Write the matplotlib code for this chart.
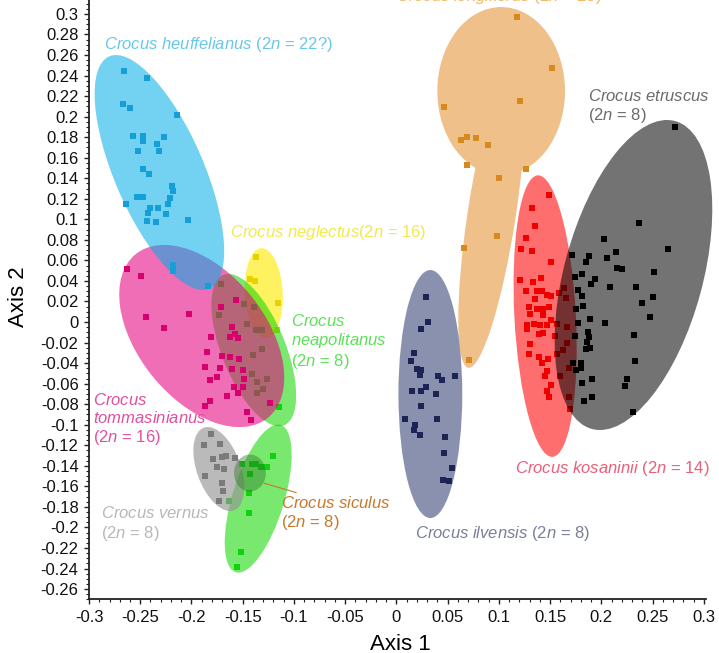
import matplotlib
matplotlib.use('Agg')
import matplotlib.pyplot as plt
from matplotlib.patches import Ellipse
from matplotlib.ticker import MultipleLocator, FuncFormatter

plt.rcParams['font.family'] = ['Liberation Sans', 'DejaVu Sans']
plt.rcParams['mathtext.fontset'] = 'custom'
plt.rcParams['mathtext.rm'] = 'Liberation Sans'
plt.rcParams['mathtext.it'] = 'Liberation Sans:italic'
plt.rcParams['mathtext.bf'] = 'Liberation Sans:bold'

# ---------------- data (Axis 1, Axis 2 scores) ----------------
heuff_x = [-0.266, -0.243, -0.267, -0.260, -0.214, -0.257, -0.247, -0.247, -0.227, -0.234,
           -0.252, -0.232, -0.247, -0.241, -0.219, -0.218, -0.221, -0.253, -0.247, -0.264,
           -0.223, -0.240, -0.233, -0.242, -0.225, -0.243, -0.235, -0.203, -0.218, -0.218, -0.184]
heuff_y = [0.244, 0.238, 0.212, 0.208, 0.202, 0.181, 0.181, 0.176, 0.180, 0.173,
           0.167, 0.167, 0.149, 0.144, 0.132, 0.128, 0.121, 0.122, 0.122, 0.115,
           0.115, 0.111, 0.111, 0.106, 0.105, 0.098, 0.097, 0.099, 0.056, 0.050, 0.035]

tomm_x = [-0.263, -0.249, -0.202, -0.244, -0.227, -0.181, -0.185, -0.170, -0.187, -0.172,
          -0.175, -0.182, -0.165, -0.182, -0.187, -0.146, -0.142, -0.157, -0.171, -0.160,
          -0.158, -0.162, -0.155, -0.162, -0.154, -0.160, -0.150, -0.149, -0.159, -0.155,
          -0.150, -0.123]
tomm_y = [0.052, 0.045, 0.008, 0.005, -0.006, -0.015, -0.029, -0.033, -0.044, -0.045,
          -0.054, -0.056, -0.072, -0.077, -0.082, -0.088, -0.095, 0.021, 0.015, -0.005,
          -0.012, -0.015, -0.016, -0.034, -0.036, -0.046, -0.047, -0.055, -0.063, -0.069,
          -0.063, -0.079]

negl_x = [-0.137, -0.143, -0.138, -0.116, -0.117]
negl_y = [0.063, 0.042, 0.040, 0.019, -0.008]

neap_x = [-0.171, -0.173, -0.149, -0.139, -0.146, -0.137, -0.131, -0.140, -0.131, -0.141,
          -0.136, -0.130, -0.136, -0.126, -0.115, -0.120, -0.126, -0.151, -0.141, -0.137,
          -0.132, -0.143, -0.144, -0.144, -0.152, -0.156, -0.163]
neap_y = [0.037, 0.007, 0.018, 0.015, -0.002, -0.008, -0.008, -0.032, -0.026, -0.051,
          -0.058, -0.065, -0.069, -0.055, -0.083, -0.130, -0.141, -0.138, -0.138, -0.138,
          -0.141, -0.148, -0.166, -0.186, -0.224, -0.239, -0.174]

vern_x = [-0.181, -0.188, -0.172, -0.179, -0.170, -0.166, -0.158, -0.175, -0.168, -0.187,
          -0.170, -0.169, -0.173]
vern_y = [-0.109, -0.120, -0.119, -0.133, -0.131, -0.130, -0.132, -0.141, -0.143, -0.150,
          -0.157, -0.165, -0.174]

long_x = [0.118, 0.152, 0.121, 0.046, 0.063, 0.069, 0.078, 0.089, 0.069, 0.126,
          0.100, 0.098, 0.066, 0.071]
long_y = [0.297, 0.247, 0.215, 0.209, 0.177, 0.180, 0.179, 0.172, 0.153, 0.149,
          0.140, 0.084, 0.072, -0.037]

ilv_x = [0.029, 0.031, 0.024, 0.017, 0.014, 0.020, 0.024, 0.023, 0.041, 0.044,
         0.057, 0.029, 0.015, 0.024, 0.039, 0.024, 0.008, 0.040, 0.018, 0.017,
         0.023, 0.047, 0.046, 0.054, 0.045, 0.051]
ilv_y = [0.024, 0.000, -0.007, -0.030, -0.038, -0.046, -0.047, -0.052, -0.053, -0.056,
         -0.053, -0.063, -0.067, -0.067, -0.070, -0.082, -0.094, -0.094, -0.100, -0.105,
         -0.110, -0.112, -0.128, -0.142, -0.154, -0.155]

kos_x = [0.149, 0.132, 0.135, 0.126, 0.122, 0.132, 0.151, 0.141, 0.121, 0.133,
         0.126, 0.137, 0.142, 0.151, 0.147, 0.135, 0.129, 0.137, 0.143, 0.149,
         0.130, 0.143, 0.151, 0.127, 0.134, 0.140, 0.147, 0.127, 0.139, 0.143,
         0.130, 0.129, 0.139, 0.148, 0.142, 0.147, 0.145, 0.151, 0.147, 0.149,
         0.164, 0.159, 0.165, 0.157, 0.166, 0.155, 0.166, 0.163, 0.157, 0.168,
         0.160, 0.168, 0.169]
kos_y = [0.124, 0.111, 0.094, 0.082, 0.071, 0.069, 0.058, 0.043, 0.041, 0.039,
         0.030, 0.030, 0.030, 0.025, 0.026, 0.022, 0.015, 0.013, 0.013, 0.015,
         0.008, 0.007, 0.002, -0.003, -0.002, -0.003, -0.003, -0.007, -0.012, -0.011,
         -0.021, -0.031, -0.034, -0.036, -0.040, -0.048, -0.053, -0.061, -0.067, -0.073,
         0.033, 0.028, 0.023, -0.002, -0.005, -0.014, -0.020, -0.027, -0.031, -0.045,
         -0.053, -0.073, -0.085]

etr_x = [0.272, 0.237, 0.265, 0.203, 0.214, 0.205, 0.188, 0.171, 0.185, 0.215,
         0.220, 0.251, 0.181, 0.174, 0.194, 0.190, 0.208, 0.234, 0.177, 0.181,
         0.250, 0.240, 0.182, 0.175, 0.247, 0.189, 0.177, 0.204, 0.187, 0.188,
         0.174, 0.232, 0.186, 0.189, 0.185, 0.233, 0.180, 0.172, 0.180, 0.175,
         0.191, 0.225, 0.181, 0.223, 0.191, 0.183, 0.231]
etr_y = [0.190, 0.096, 0.071, 0.081, 0.068, 0.062, 0.064, 0.065, 0.058, 0.053,
         0.052, 0.049, 0.047, 0.044, 0.042, 0.037, 0.034, 0.034, 0.031, 0.025,
         0.024, 0.019, 0.016, 0.013, 0.005, 0.003, -0.001, -0.001, -0.010, -0.015,
         -0.014, -0.013, -0.019, -0.025, -0.026, -0.038, -0.040, -0.040, -0.045, -0.047,
         -0.055, -0.055, -0.059, -0.062, -0.073, -0.077, -0.088]

# confidence ellipses: centre x, centre y, major axis, minor axis, angle (deg)
ell_group = ['longiflorus', 'longiflorus', 'ilvensis', 'kosaninii', 'etruscus',
             'neglectus', 'neapolitanus', 'neapolitanus', 'tommasinianus',
             'heuffelianus', 'vernus', 'siculus']
ell_cx = [0.1022, 0.0930, 0.0331, 0.1451, 0.2313, -0.1295, -0.1392, -0.1349, -0.1900,
          -0.2313, -0.1733, -0.1430]
ell_cy = [0.2249, 0.1052, -0.0701, 0.0058, 0.0458, 0.0282, -0.0273, -0.1719, -0.0136,
          0.1456, -0.1431, -0.1470]
ell_major = [0.1636, 0.3030, 0.2415, 0.2745, 0.3106, 0.0876, 0.1580, 0.1500, 0.2050,
             0.2465, 0.0857, 0.0360]
ell_minor = [0.1246, 0.0470, 0.0623, 0.0600, 0.1354, 0.0370, 0.0623, 0.0506, 0.1240,
             0.0872, 0.0428, 0.0310]
ell_angle = [90, 81.3, 90, 93, 74.85, 93, 112, 73, -51, -66.6, 110, 90]

labels = {
    'heuffelianus': r'$\mathit{Crocus\ heuffelianus}$ (2$\mathit{n}$ = 22?)',
    'neglectus': r'$\mathit{Crocus\ neglectus}$(2$\mathit{n}$ = 16)',
    'neapolitanus': '$\\mathit{Crocus}$\n$\\mathit{neapolitanus}$\n(2$\\mathit{n}$ = 8)',
    'tommasinianus': '$\\mathit{Crocus}$\n$\\mathit{tommasinianus}$\n(2$\\mathit{n}$ = 16)',
    'vernus': '$\\mathit{Crocus\\ vernus}$\n(2$\\mathit{n}$ = 8)',
    'siculus': '$\\mathit{Crocus\\ siculus}$\n(2$\\mathit{n}$ = 8)',
    'ilvensis': r'$\mathit{Crocus\ ilvensis}$ (2$\mathit{n}$ = 8)',
    'kosaninii': r'$\mathit{Crocus\ kosaninii}$ (2$\mathit{n}$ = 14)',
    'etruscus': '$\\mathit{Crocus\\ etruscus}$\n(2$\\mathit{n}$ = 8)',
    'longiflorus': r'$\mathit{Crocus\ longiflorus}$ (2$\mathit{n}$ = 28)',
}

# ---------------- styles ----------------
ell_face = {'longiflorus': ('#f0c08a', 1.0), 'ilvensis': ('#28376e', 0.55),
            'kosaninii': ('#ff0000', 0.57), 'etruscus': ('#000000', 0.55),
            'neglectus': ('#ffeb00', 0.62), 'neapolitanus': ('#14d700', 0.57),
            'tommasinianus': ('#e6007e', 0.57), 'heuffelianus': ('#00aee8', 0.55),
            'vernus': ('#969696', 0.65), 'siculus': ('#286e1e', 0.40)}
ell_z = {'longiflorus': 1, 'ilvensis': 2, 'kosaninii': 3, 'etruscus': 4,
         'neglectus': 1, 'neapolitanus': 2, 'tommasinianus': 3, 'heuffelianus': 4,
         'vernus': 5, 'siculus': 6}
pts = [('longiflorus', long_x, long_y, '#d68a1e'),
       ('ilvensis', ilv_x, ilv_y, '#1b2455'),
       ('kosaninii', kos_x, kos_y, '#ee0000'),
       ('etruscus', etr_x, etr_y, '#000000'),
       ('neglectus', negl_x, negl_y, '#e6d200'),
       ('neapolitanus', neap_x, neap_y, '#10d010'),
       ('tommasinianus', tomm_x, tomm_y, '#d6006f'),
       ('heuffelianus', heuff_x, heuff_y, '#14a0d7'),
       ('vernus', vern_x, vern_y, '#7a7a7a')]
lab_pos = {'heuffelianus': (-0.2853, 0.2707), 'neglectus': (-0.1626, 0.0867),
           'neapolitanus': (-0.1032, -0.0195), 'tommasinianus': (-0.2960, -0.0945),
           'vernus': (-0.2882, -0.1967), 'siculus': (-0.1130, -0.1860),
           'ilvensis': (0.0185, -0.2055), 'kosaninii': (0.1159, -0.1422),
           'etruscus': (0.1870, 0.2100), 'longiflorus': (0.0000, 0.3165)}
lab_col = {'heuffelianus': '#66c9ec', 'neglectus': '#f2e94e', 'neapolitanus': '#5ee05a',
           'tommasinianus': '#e0509f', 'vernus': '#b8b8b8', 'siculus': '#c8782a',
           'ilvensis': '#7a7f9a', 'kosaninii': '#e8607a', 'etruscus': '#6b6b6b',
           'longiflorus': '#f0b868'}

# ---------------- figure ----------------
fig = plt.figure(figsize=(7.19, 6.53), dpi=100)
ax = fig.add_axes([0.1238, 0.0822, 0.858, 0.9279])
ax.set_xlim(-0.3, 0.302)
ax.set_ylim(-0.27, 0.32)

for g, cx, cy, w, h, a in zip(ell_group, ell_cx, ell_cy, ell_major, ell_minor, ell_angle):
    fc, al = ell_face[g]
    ax.add_patch(Ellipse((cx, cy), w, h, angle=a, facecolor=fc, alpha=al,
                         edgecolor='none', zorder=ell_z[g], clip_on=False))

for g, xs, ys, c in pts:
    ax.scatter(xs, ys, marker='s', s=13, color=c, linewidths=0,
               zorder=ell_z[g] + 0.5, clip_on=False)

for g, txt in labels.items():
    x, y = lab_pos[g]
    ax.text(x, y, txt, color=lab_col[g], fontsize=12, ha='left', va='center',
            linespacing=1.15, zorder=10, clip_on=False)

ax.plot([-0.129, -0.098], [-0.157, -0.166], color='#c8782a', lw=0.8, zorder=7)

for s in ('top', 'right'):
    ax.spines[s].set_visible(False)
for s in ('left', 'bottom'):
    ax.spines[s].set_linewidth(1.3)
    ax.spines[s].set_color('#222222')

def fmt(v, pos):
    s = f'{v:.2f}'.rstrip('0').rstrip('.')
    if s in ('-0', ''):
        s = '0'
    return s

ax.xaxis.set_major_locator(MultipleLocator(0.05))
ax.xaxis.set_minor_locator(MultipleLocator(0.01))
ax.yaxis.set_major_locator(MultipleLocator(0.02))
ax.yaxis.set_minor_locator(MultipleLocator(0.005))
ax.xaxis.set_major_formatter(FuncFormatter(fmt))
ax.yaxis.set_major_formatter(FuncFormatter(fmt))
ax.tick_params(which='major', direction='out', length=3.5, width=1, labelsize=12,
               pad=4, color='#222222', labelcolor='#111111')
ax.tick_params(which='minor', direction='out', length=2, width=0.8, color='#222222')

ax.set_xlabel('Axis 1', fontsize=16)
ax.set_ylabel('Axis 2', fontsize=16)
ax.xaxis.set_label_coords(0.504, -0.058)
ax.yaxis.set_label_coords(-0.098, 0.5)

fig.savefig('out.png', dpi=100)
